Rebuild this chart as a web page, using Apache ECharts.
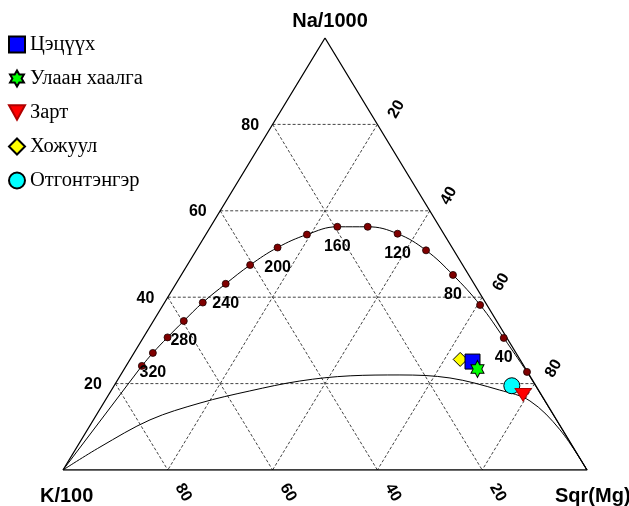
<!DOCTYPE html>
<html>
<head>
<meta charset="utf-8">
<script src="https://cdn.jsdelivr.net/npm/echarts@6/dist/echarts.min.js"></script>
<style>
  html, body { margin: 0; padding: 0; background: #fff; }
  #chart { width: 629px; height: 506px; }
</style>
</head>
<body>
<div id="chart"></div>
<script>
// Ternary Na/1000 – K/100 – √Mg diagram. All shares are percent of the sum.
const tickValues = [20, 40, 60, 80];

// Full-equilibrium line: temperature (°C) with its Na, K, Mg shares
const eqTemps = [340, 320, 300, 280, 260, 240, 220, 200, 180, 160, 140, 120, 100, 80, 60, 40, 20];
const eqNa = [24.1, 27.1, 30.7, 34.5, 38.8, 43.1, 47.5, 51.5, 54.5, 56.3, 56.3, 54.7, 50.9, 45.2, 38.2, 30.6, 22.7];
const eqK  = [72.9, 69.3, 64.7, 59.7, 54.0, 47.4, 40.6, 33.3, 26.2, 19.5, 13.7, 8.8, 5.3, 3.0, 1.3, 0.6, 0.1];
const eqMg = [3.0, 3.6, 4.6, 5.8, 7.3, 9.5, 12.0, 15.2, 19.3, 24.2, 30.0, 36.5, 43.9, 51.9, 60.5, 68.9, 77.2];

// Boundary of immature waters
const immNa = [0, 5.3, 11.6, 15.5, 18.3, 20.6, 21.8, 22.0, 21.3, 18.5, 16.0, 9.3, 0];
const immK  = [100, 90.3, 77.6, 66.1, 55.2, 44.5, 34.3, 24.7, 15.5, 7.4, 2.9, 0.5, 0];
const immMg = [0, 4.4, 10.8, 18.4, 26.5, 34.9, 43.9, 53.3, 63.2, 74.1, 81.1, 90.2, 100];

// Water samples
const sampleNames = ['Цэцүүх', 'Улаан хаалга', 'Зарт', 'Хожуул', 'Отгонтэнгэр'];
const sampleNa = [25.1, 23.4, 17.4, 25.6, 19.5];
const sampleK  = [9.3, 9.2, 3.5, 11.4, 4.6];
const sampleMg = [65.6, 67.4, 79.1, 63.0, 75.9];

// ternary (Na, K, Mg) -> plane coordinates on a 0..100 square
function tern(na, k, mg) {
  const s = na + k + mg;
  return [(mg + na / 2) / s * 100, na / s * 100];
}

const HEXAGRAM = 'path://M0,-10L2.887,-5L8.66,-5L5.774,0L8.66,5L2.887,5L0,10L-2.887,5L-8.66,5L-5.774,0L-8.66,-5L-2.887,-5Z';
const DOWN_TRI = 'path://M0,0L10,0L5,9Z';

const sampleStyles = [
  { symbol: 'rect', size: 15, color: '#0000ff', border: '#000', z: 4 },
  { symbol: HEXAGRAM, size: [15, 17], color: '#00ff00', border: '#000', z: 5 },
  { symbol: DOWN_TRI, size: [16, 14], color: '#ff0000', border: '#b00000', z: 5 },
  { symbol: 'diamond', size: 14, color: '#ffff00', border: '#000', z: 3 },
  { symbol: 'circle', size: 16, color: '#00ffff', border: '#000', z: 3 }
];

// grid line segments: [x1, y1, x2, y2]
const gridSegs = [];
tickValues.forEach(c => {
  const r = 100 - c;
  gridSegs.push([...tern(c, r, 0), ...tern(c, 0, r)]);   // constant Na
  gridSegs.push([...tern(r, c, 0), ...tern(0, c, r)]);   // constant K
  gridSegs.push([...tern(r, 0, c), ...tern(0, r, c)]);   // constant Mg
});

// tick labels: [x, y, value, side]  side 0 = Na (left), 1 = Mg (right), 2 = K (bottom)
const tickItems = [];
tickValues.forEach(c => {
  tickItems.push([...tern(c, 100 - c, 0), c, 0]);
  tickItems.push([...tern(100 - c, 0, c), c, 1]);
  tickItems.push([...tern(0, c, 100 - c), c, 2]);
});

const eqPoints = eqTemps.map((t, i) => ({
  value: tern(eqNa[i], eqK[i], eqMg[i]),
  label: { show: t % 40 === 0, formatter: String(t) }
}));
const last = eqTemps.length - 1;

const series = [
  {
    type: 'custom', name: 'grid', silent: true, z: 1,
    encode: { x: [0, 2], y: [1, 3] },
    data: gridSegs,
    renderItem: (params, api) => {
      const a = api.coord([api.value(0), api.value(1)]);
      const b = api.coord([api.value(2), api.value(3)]);
      return {
        type: 'line',
        shape: { x1: a[0], y1: a[1], x2: b[0], y2: b[1] },
        style: { stroke: '#444', lineWidth: 1, lineDash: [3, 2] }
      };
    }
  },
  {
    type: 'line', name: 'frame', silent: true, z: 2, symbol: 'none',
    data: [tern(0, 100, 0), tern(100, 0, 0), tern(0, 0, 100), tern(0, 100, 0)],
    lineStyle: { color: '#000', width: 1.3 }
  },
  {
    type: 'custom', name: 'ticks', silent: true, z: 6,
    encode: { x: 0, y: 1 },
    data: tickItems,
    renderItem: (params, api) => {
      const p = api.coord([api.value(0), api.value(1)]);
      const side = api.value(3);
      let x = p[0], y = p[1], rot = 0, align = 'center';
      if (side === 0) { x -= 13.5; y += 1; align = 'right'; }
      else if (side === 1) { x += 19; y -= 15; rot = Math.PI / 3; }
      else { x += 15.5; y += 22.5; rot = -Math.PI / 3; }
      return {
        type: 'text', x: x, y: y, rotation: rot,
        style: {
          text: String(api.value(2)), fill: '#000',
          font: 'bold 16px "Liberation Sans", Arial, sans-serif',
          align: align, verticalAlign: 'middle'
        }
      };
    }
  },
  {
    type: 'line', name: 'immature', silent: true, z: 2, symbol: 'none', smooth: 0.35,
    data: immNa.map((n, i) => tern(n, immK[i], immMg[i])),
    lineStyle: { color: '#000', width: 1 }
  },
  {
    type: 'line', name: 'eq-ends-k', silent: true, z: 2, symbol: 'none',
    data: [tern(0, 100, 0), tern(eqNa[0], eqK[0], eqMg[0])],
    lineStyle: { color: '#000', width: 1 }
  },
  {
    type: 'line', name: 'eq-ends-mg', silent: true, z: 2, symbol: 'none',
    data: [tern(eqNa[last], eqK[last], eqMg[last]), tern(0, 0, 100)],
    lineStyle: { color: '#000', width: 1 }
  },
  {
    type: 'line', name: 'equilibrium', silent: true, z: 3, smooth: 0.4,
    data: eqPoints,
    symbol: 'circle', symbolSize: 7, showAllSymbol: true,
    itemStyle: { color: '#800000', borderColor: '#1a0000', borderWidth: 0.8 },
    lineStyle: { color: '#000', width: 1 },
    label: {
      position: 'bottom', distance: 8, color: '#000',
      fontFamily: '"Liberation Sans", Arial, sans-serif',
      fontWeight: 'bold', fontSize: 16
    }
  }
];

sampleNames.forEach((name, i) => {
  const st = sampleStyles[i];
  series.push({
    type: 'scatter', name: name, z: st.z,
    symbol: st.symbol, symbolSize: st.size, symbolKeepAspect: true,
    itemStyle: { color: st.color, borderColor: st.border, borderWidth: 1, opacity: 1 },
    data: [tern(sampleNa[i], sampleK[i], sampleMg[i])]
  });
});

const chart = echarts.init(document.getElementById('chart'), null, { renderer: 'canvas' });
chart.setOption({
  animation: false,
  backgroundColor: '#fff',
  grid: { left: 63, top: 38, width: 524, height: 432 },
  xAxis: { type: 'value', min: 0, max: 100, show: false },
  yAxis: { type: 'value', min: 0, max: 100, show: false },
  legend: {
    orient: 'vertical', left: 8, top: 34, padding: 0,
    itemWidth: 16, itemHeight: 16, itemGap: 13, selectedMode: false,
    data: sampleNames,
    textStyle: {
      fontFamily: '"Liberation Serif", "Times New Roman", serif',
      fontSize: 20.5, lineHeight: 20, color: '#000'
    }
  },
  graphic: [
    { type: 'text', x: 330, y: 21, style: { text: 'Na/1000', font: 'bold 20px "Liberation Sans", Arial, sans-serif', fill: '#000', align: 'center', verticalAlign: 'middle' } },
    { type: 'text', x: 40, y: 496, style: { text: 'K/100', font: 'bold 20px "Liberation Sans", Arial, sans-serif', fill: '#000', align: 'left', verticalAlign: 'middle' } },
    { type: 'text', x: 555, y: 496, style: { text: 'Sqr(Mg)', font: 'bold 20px "Liberation Sans", Arial, sans-serif', fill: '#000', align: 'left', verticalAlign: 'middle' } }
  ],
  series: series
});
</script>
</body>
</html>
